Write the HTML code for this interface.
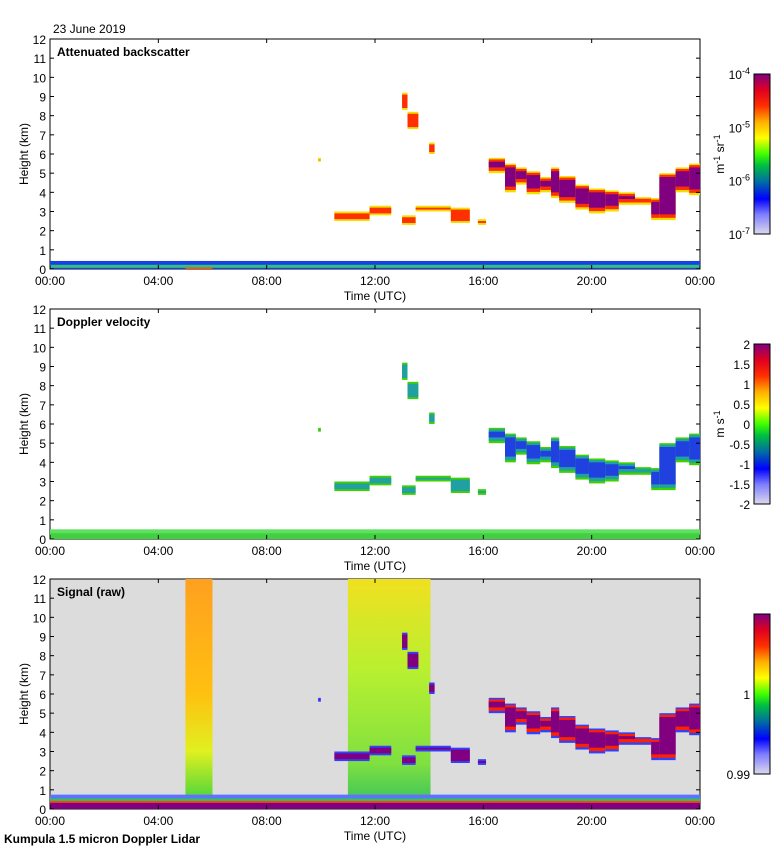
<!DOCTYPE html>
<html><head><meta charset="utf-8">
<style>
body{margin:0;background:#fff;}
svg{display:block;font-family:"Liberation Sans",sans-serif;}
</style></head>
<body>
<svg id="fig" width="780" height="850" viewBox="0 0 780 850">
<defs>
<linearGradient id="cmap" x1="0" y1="1" x2="0" y2="0">
<stop offset="0" stop-color="#dcd8ec"/>
<stop offset="0.12" stop-color="#8080ff"/>
<stop offset="0.22" stop-color="#0000ff"/>
<stop offset="0.33" stop-color="#0070a0"/>
<stop offset="0.43" stop-color="#00c040"/>
<stop offset="0.5" stop-color="#40ff00"/>
<stop offset="0.6" stop-color="#ffff00"/>
<stop offset="0.7" stop-color="#ffb000"/>
<stop offset="0.8" stop-color="#ff3000"/>
<stop offset="0.9" stop-color="#e00020"/>
<stop offset="1" stop-color="#800080"/>
</linearGradient>
<linearGradient id="band1" x1="0" y1="0" x2="0" y2="1">
<stop offset="0" stop-color="#ffa020"/>
<stop offset="0.5" stop-color="#ffc010"/>
<stop offset="0.75" stop-color="#e0f020"/>
<stop offset="1" stop-color="#30d040"/>
</linearGradient>
<linearGradient id="band2" x1="0" y1="0" x2="0" y2="1">
<stop offset="0" stop-color="#f0e020"/>
<stop offset="0.4" stop-color="#b8f030"/>
<stop offset="0.8" stop-color="#80e040"/>
<stop offset="1" stop-color="#30c060"/>
</linearGradient>
</defs>
<text x="53" y="33" font-size="12">23 June 2019</text>
<text x="4" y="843" font-size="12" font-weight="bold">Kumpula 1.5 micron Doppler Lidar</text>
<g id="layer"></g>
</svg>
<script>
// ---- data ----
const xTickLabels = ["00:00","04:00","08:00","12:00","16:00","20:00","00:00"];
const yTickLabels = [0,1,2,3,4,5,6,7,8,9,10,11,12];
const panelTitles = ["Attenuated backscatter","Doppler velocity","Signal (raw)"];
// main cloud deck: hour, base km, top km
const cloudHours = [16.2,16.8,17.2,17.6,18.1,18.5,18.8,19.4,19.9,20.5,21.0,21.6,22.2,22.5,23.1,23.6,24.0];
const cloudBase  = [5.0, 4.0, 4.4, 3.9, 4.0, 3.7, 3.45,3.1, 2.9, 3.0, 3.35,3.35,2.55,2.55,4.0, 3.85,4.1];
const cloudTop   = [5.8, 5.5, 5.3, 5.1, 4.8, 5.3, 4.85,4.4, 4.2, 4.1, 4.0, 3.75,3.7, 5.0, 5.3, 5.5, 5.4];
// small fragments: start hour, end hour, base km, top km
const fragStart = [10.5,11.8,13.0,13.5,14.8,15.8,13.0,13.2,14.0,9.9];
const fragEnd   = [11.8,12.6,13.5,14.8,15.5,16.1,13.2,13.6,14.2,10.0];
const fragBase  = [2.5, 2.8, 2.3, 3.0, 2.4, 2.3, 8.3, 7.3, 6.0, 5.6];
const fragTop   = [3.0, 3.3, 2.8, 3.3, 3.2, 2.6, 9.2, 8.2, 6.6, 5.8];
// raw-signal noise bands: start hour, end hour
const bandStart = [5.0, 11.0];
const bandEnd   = [6.0, 14.05];
const cb1Labels = ["10","10","10","10"]; const cb1Exp = ["-4","-5","-6","-7"];
const cb2Labels = ["2","1.5","1","0.5","0","-0.5","-1","-1.5","-2"];
const cb3Labels = ["1","0.99"];

const NS="http://www.w3.org/2000/svg";
const L=50,R=700,panelTops=[39,309,579],PH=230;
const CBX=754,CBW=16,LBX=750;
const g=document.getElementById('layer');
function mk(t,a,parent){const e=document.createElementNS(NS,t);for(const k in a)e.setAttribute(k,a[k]);(parent||g).appendChild(e);return e;}
const xs=h=>L+(R-L)*h/24;
function ys(p,km){return panelTops[p]+PH-PH*km/12;}
function rect(p,h0,h1,k0,k1,fill,name){
  const e=mk('rect',{x:xs(h0),y:ys(p,k1),width:Math.max(0.5,xs(h1)-xs(h0)),height:Math.max(0.5,ys(p,k0)-ys(p,k1)),fill:fill});
  
  
  return e;
}
const palettes=[
  ["#f0e000","#ff3000","#800080"],
  ["#40d000","#20a0a0","#2040e0"],
  ["#3040ff","#ff2000","#800080"]
];
for(let p=0;p<3;p++){
  const top=panelTops[p];
  const pg=mk('g',{});
  
  
  const bg=mk('rect',{x:L,y:top,width:R-L,height:PH,fill:p==2?'#dcdcdc':'#fff'},pg);
  
  
  if(p==0){rect(0,0,24,0,0.42,'#1840e8','boundary-layer');rect(0,0,24,0.06,0.22,'#30c080','boundary-layer-core');rect(0,5,6,0,0.08,'#ff5000','boundary-layer-red');}
  if(p==1){rect(1,0,24,0,0.5,'#40d040','boundary-layer');rect(1,0,24,0.3,0.5,'#60e060','boundary-layer-top');}
  if(p==2){
    for(let i=0;i<bandStart.length;i++){rect(2,bandStart[i],bandEnd[i],0,12,'url(#band'+(i+1)+')','noise-band');}
    rect(2,0,24,0.5,0.75,'#6070ff','boundary-layer-blue');
    rect(2,0,24,0.4,0.55,'#30c060','boundary-layer-green');
    rect(2,0,24,0.3,0.42,'#ff4010','boundary-layer-red');
    rect(2,0,24,0,0.32,'#800080','boundary-layer');
  }
  const pal=palettes[p];
  for(let i=0;i<cloudHours.length-1;i++){
    const h0=cloudHours[i],h1=cloudHours[i+1],b=cloudBase[i],t=cloudTop[i];
    rect(p,h0,h1,b,t,pal[0],'cloud-column-edge');
    rect(p,h0,h1,b+0.12,t-0.08,pal[1],'cloud-column-mid');
    if(t-b>0.6) rect(p,h0,h1,b+0.3,t-0.2,pal[2],'cloud-column-core');
  }
  for(let i=0;i<fragStart.length;i++){
    rect(p,fragStart[i],fragEnd[i],fragBase[i],fragTop[i],pal[0],'cloud-fragment');
    rect(p,fragStart[i],fragEnd[i],fragBase[i]+0.1,fragTop[i]-0.1,p==2?pal[2]:pal[1],'cloud-fragment-core');
  }
  const fr=mk('rect',{x:L,y:top,width:R-L,height:PH,fill:'none',stroke:'#000','stroke-width':1},pg);
  
  
  yTickLabels.forEach(v=>{
    const y=ys(p,v);
    mk('line',{x1:L,x2:L+4,y1:y,y2:y,stroke:'#000'});
    mk('line',{x1:R-4,x2:R,y1:y,y2:y,stroke:'#000'});
    const t=mk('text',{x:46,y:y+5,'font-size':12,'text-anchor':'end'});t.textContent=v;
    
    
  });
  xTickLabels.forEach((s,i)=>{
    const x=xs(i*4);
    mk('line',{x1:x,x2:x,y1:top,y2:top+4,stroke:'#000'});
    mk('line',{x1:x,x2:x,y1:top+PH-4,y2:top+PH,stroke:'#000'});
    const t=mk('text',{x:x,y:top+PH+16,'font-size':12,'text-anchor':'middle'});t.textContent=s;
    
    
  });
  const xt=mk('text',{x:375,y:top+PH+31,'font-size':12,'text-anchor':'middle'});xt.textContent='Time (UTC)';
  
  
  const yt=mk('text',{x:28,y:top+PH/2,'font-size':12,'text-anchor':'middle',transform:'rotate(-90 28 '+(top+PH/2)+')'});yt.textContent='Height (km)';
  
  
  const tt=mk('text',{x:57,y:top+17,'font-size':12,'font-weight':'bold'});tt.textContent=panelTitles[p];
  
  
  const cy=top+35,ch=160;
  const cb=mk('rect',{x:CBX,y:cy,width:CBW,height:ch,fill:'url(#cmap)',stroke:'#000'});
  
  
  if(p==0){
    cb1Labels.forEach((s,i)=>{
      const t=mk('text',{x:LBX,y:cy+i*ch/3+5,'font-size':12,'text-anchor':'end'});
      t.innerHTML=s+'<tspan dy="-5" font-size="9">'+cb1Exp[i]+'</tspan>';
      
      
    });
    const u=mk('text',{x:0,y:0,'font-size':12,'text-anchor':'middle',transform:'translate(724 '+(cy+ch/2)+') rotate(-90)'});
    u.innerHTML='m<tspan dy="-4" font-size="9">-1</tspan><tspan dy="4"> sr</tspan><tspan dy="-4" font-size="9">-1</tspan>';
    
    
  } else if(p==1){
    cb2Labels.forEach((s,i)=>{
      const t=mk('text',{x:LBX,y:cy+i*ch/8+5,'font-size':12,'text-anchor':'end'});t.textContent=s;
      
      
    });
    const u=mk('text',{x:0,y:0,'font-size':12,'text-anchor':'middle',transform:'translate(724 '+(cy+ch/2)+') rotate(-90)'});
    u.innerHTML='m s<tspan dy="-4" font-size="9">-1</tspan>';
    
    
  } else {
    const pos=[cy+80,cy+ch];
    cb3Labels.forEach((s,i)=>{
      const t=mk('text',{x:LBX,y:pos[i]+5,'font-size':12,'text-anchor':'end'});t.textContent=s;
      
      
    });
  }
}
</script>
</body></html>
